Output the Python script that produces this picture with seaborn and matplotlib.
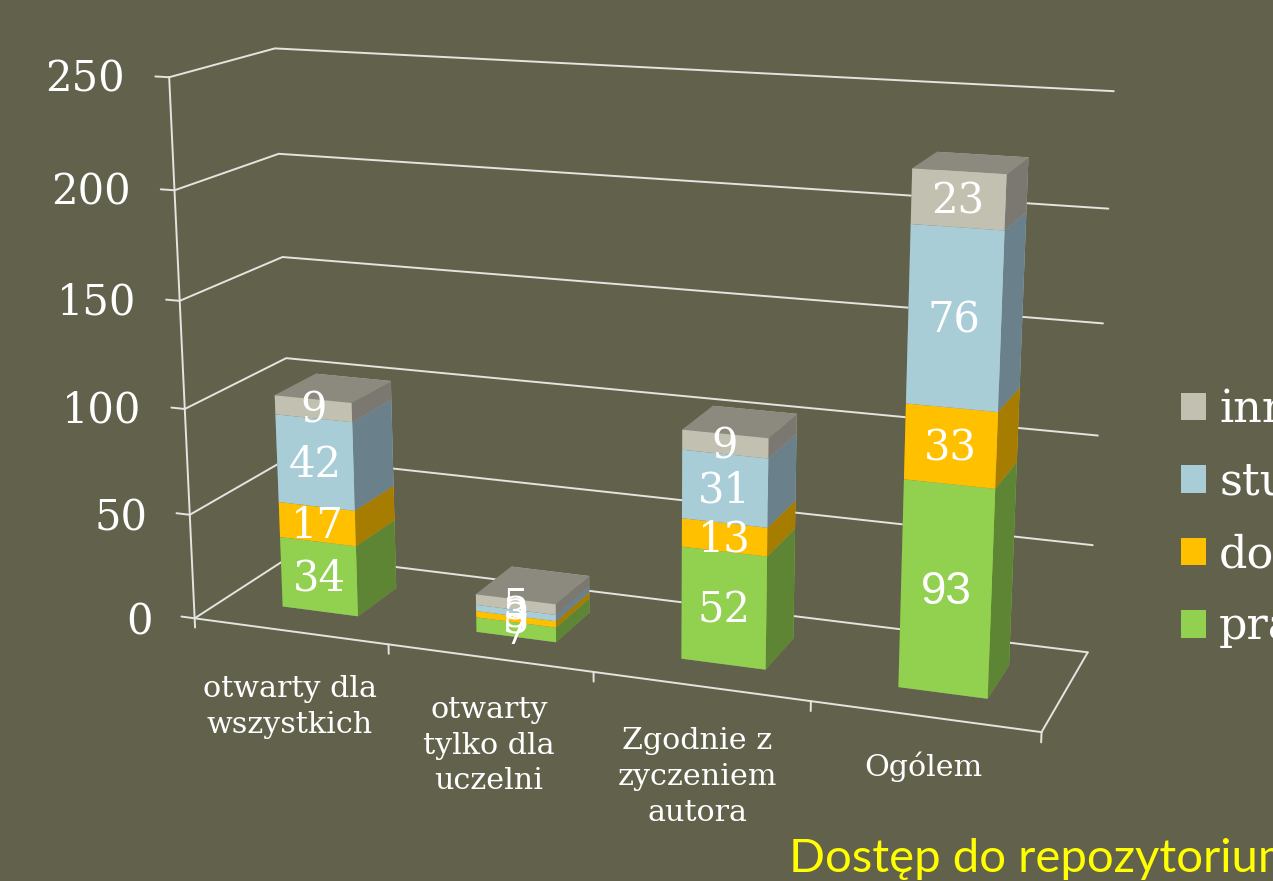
import numpy as np
import matplotlib
matplotlib.use('Agg')
import matplotlib.pyplot as plt
from matplotlib.patches import Patch
import seaborn as sns

# chart data
categories = ['otwarty dla\nwszystkich', 'otwarty\ntylko dla\nuczelni', 'Zgodnie z\nzyczeniem\nautora', 'Ogólem']
pracownicy = [34, 7, 52, 93]
doktoranci = [17, 3, 13, 33]
studenci = [42, 3, 31, 76]
inne = [9, 5, 9, 23]
z_ticks = [0, 50, 100, 150, 200, 250]
series_names = ['pracownicy', 'doktoranci', 'studenci', 'inne']

# colours: front, side
front_colors = ['#92D050', '#FFC000', '#A9CDD7', '#C2C0B0']
side_colors = ['#5E8533', '#A67D00', '#6A808A', '#7A7870']
top_color = '#8C8A7E'
bg = '#62624C'
line_color = '#E4E4E0'

W, H = 1273, 881

sns.set_theme(style='white', rc={'figure.facecolor': bg, 'axes.facecolor': bg, 'savefig.facecolor': bg})
serif = 'DejaVu Serif'

fig = plt.figure(figsize=(W / 100, H / 100), dpi=100)
# 3d axes are always square, so let it run past the top and bottom of the figure
ax = fig.add_axes([0, -(W - H) / 2 / H, 1, W / H], projection='3d')
ax.set_axis_off()
ax.computed_zorder = False
ax.set_xlim(0, 4)
ax.set_ylim(0, 1)
ax.set_zlim(0, 250)
ax.apply_aspect()

# camera fitted on the corners of the chart box in the reference (x, depth, value) -> pixel
calib = [
    ((0, 0, 250), (169, 77)), ((0, 0, 200), (175, 190)), ((0, 0, 150), (181, 300)),
    ((0, 0, 100), (185, 409)), ((0, 0, 50), (189, 515)), ((0, 0, 0), (195, 618)),
    ((0, 1, 250), (275, 48)), ((0, 1, 200), (278, 154)), ((0, 1, 150), (282, 258)),
    ((0, 1, 100), (286, 358)), ((0, 1, 0), (294, 554)),
    ((4, 1, 250), (1113, 91)), ((4, 1, 200), (1109, 209)), ((4, 1, 150), (1103, 324)),
    ((4, 1, 100), (1098, 436)), ((4, 1, 50), (1093, 545)), ((4, 1, 0), (1088, 651)),
    ((4, 0, 0), (1042, 731)), ((1, 0, 0), (388, 645)), ((2, 0, 0), (593, 673)), ((3, 0, 0), (810, 702)),
]
A, b = [], []
for (X, Y, Z), (u, v) in calib:
    v = H - v
    A.append([X, Y, Z, 1, 0, 0, 0, 0, -u * X, -u * Y, -u * Z])
    b.append(u)
    A.append([0, 0, 0, 0, X, Y, Z, 1, -v * X, -v * Y, -v * Z])
    b.append(v)
p = np.linalg.lstsq(np.array(A, float), np.array(b, float), rcond=None)[0]
P = np.append(p, 1.0).reshape(3, 4)
P = ax.transData.inverted().get_matrix() @ P
M = np.array([P[0], P[1], [0, 0, 0, -1.0], P[2]])
ax.get_proj = lambda: M

# box lines
lw = 1.4
def box_line(xs, ys, zs):
    ax.plot(xs, ys, zs, color=line_color, lw=lw, zorder=1, clip_on=False)

for z in z_ticks:
    box_line([0, 0, 4], [0, 1, 1], [z, z, z])
    box_line([-0.07, 0], [0, 0], [z, z])
box_line([0, 0], [0, 0], [0, 250])
box_line([0, 4, 4], [0, 0, 1], [0, 0, 0])
for i in range(5):
    box_line([i, i], [0, 0], [0, -4.5])

# stacked bars
stack = [pracownicy, doktoranci, studenci, inne]
bar_w = 0.395
y0, y1 = 0.29, 0.71
order = 2
for c in range(len(categories)):
    bottom = 0
    xl = c + 0.5 - 0.19
    for s, vals in enumerate(stack):
        faces = [top_color, top_color, front_colors[s], front_colors[s], side_colors[s], side_colors[s]]
        ax.bar3d(xl, y0, bottom, bar_w, y1 - y0, vals[c], color=faces, shade=False, edgecolor='none',
                 linewidth=0, zorder=order)
        order += 1
        bottom += vals[c]

# value labels
for c in range(len(categories)):
    bottom = 0
    for vals in stack:
        # 93 is in a different font in the original
        fam = 'Liberation Sans' if vals[c] == 93 else serif
        size = 33 if vals[c] == 93 else 30
        ax.text(c + 0.507, y0, bottom + vals[c] / 2 - 1, str(vals[c]), color='white', family=fam, fontsize=size,
                ha='center', va='center', zorder=100)
        bottom += vals[c]

tick_dz = [-4.8, -4.4, -3, -2.5, -2.5, -2]
for z, dz in zip(z_ticks, tick_dz):
    ax.text(-0.228, 0, z + dz, str(z), color='white', family=serif, fontsize=30, ha='right', va='center', zorder=100)

label_x = [0.49, 1.495, 2.487, 3.5]
label_z = [-21.5, -18, -19, -15.5]
for c, name in enumerate(categories):
    ax.text(label_x[c], 0, label_z[c], name, color='white', family=serif, fontsize=21.7, ha='center', va='top',
            linespacing=1.35, zorder=100)

handles = [Patch(facecolor=front_colors[s], edgecolor='none', label=series_names[s]) for s in [3, 2, 1, 0]]
fig.legend(handles=handles, loc='upper left', bbox_to_anchor=(1169 / W, 1 - 376 / H), frameon=False,
           prop={'family': serif, 'size': 32}, labelcolor='white', handlelength=0.57, handleheight=0.57,
           handletextpad=0.29, labelspacing=0.66, borderpad=0.27, borderaxespad=0)

fig.text(789 / W, 1 - 872 / H, 'Dostęp do repozytorium', color='#FFFF00', family='Lato', fontsize=34,
         ha='left', va='baseline')

fig.savefig('out.png', dpi=100)
